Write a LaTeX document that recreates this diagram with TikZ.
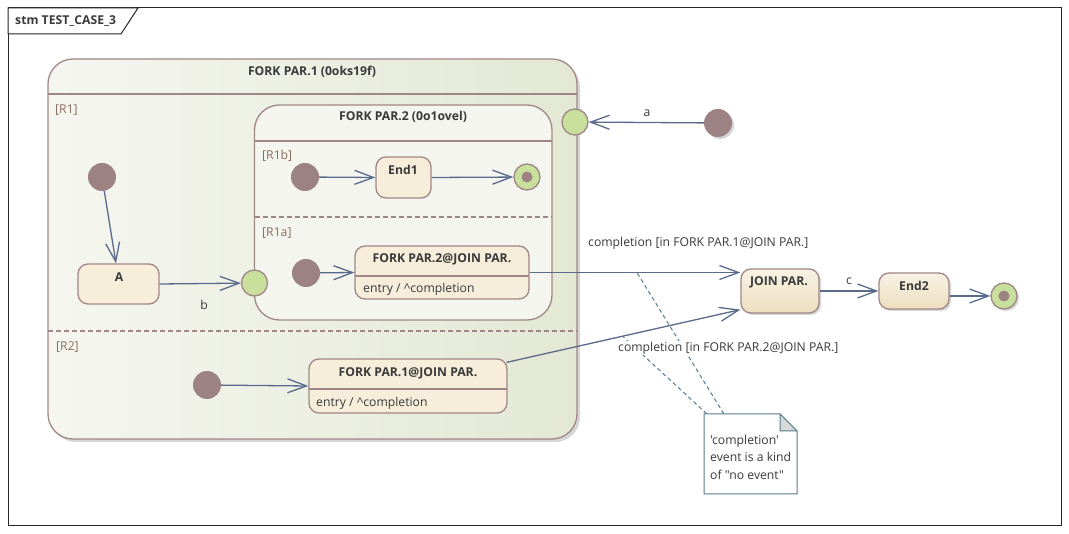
\documentclass[tikz,border=0pt]{standalone}
\usepackage{fontspec}
\setmainfont{Open Sans}[Ligatures=TeXOff]
\usetikzlibrary{arrows.meta,calc}
\definecolor{brd}{HTML}{A08787}
\definecolor{initc}{HTML}{9C8282}
\definecolor{greenc}{HTML}{C9E09C}
\definecolor{stfill}{HTML}{F6EDDA}
\definecolor{stlight}{HTML}{F8F2E4}
\definecolor{stdark}{HTML}{EDDFBF}
\definecolor{arr}{HTML}{5A6A8A}
\definecolor{txt}{HTML}{3A3A3A}
\definecolor{reg}{HTML}{8A6E60}
\definecolor{notebrd}{HTML}{557D8D}
\definecolor{compL}{HTML}{F5F6F0}
\definecolor{compR}{HTML}{E3E8D4}
\definecolor{comp2}{HTML}{F4F5EF}
\begin{document}
\begin{tikzpicture}[x=1pt,y=-1pt, font=\fontsize{12.2}{14}\selectfont, text=txt,
  state/.style={draw=brd, line width=1.3pt, fill=stfill, rounded corners=10pt, inner sep=0pt},
  gstate/.style={draw=brd, line width=1.3pt, top color=stlight, bottom color=stdark, rounded corners=10pt, inner sep=0pt},
  init/.style={circle, fill=initc, draw=none, minimum size=28pt, inner sep=0pt},
  pseudo/.style={circle, fill=greenc, draw=brd, line width=1.3pt, minimum size=26pt, inner sep=0pt},
  final/.style={circle, fill=greenc, draw=brd, line width=1.3pt, minimum size=26pt, inner sep=0pt},
  trans/.style={draw=arr, line width=1.3pt, -{Straight Barb[length=19pt,width=14pt,line width=1.3pt]}},
  title/.style={font=\fontsize{12.2}{14}\selectfont\bfseries, inner sep=0pt},
  reglbl/.style={text=reg, inner sep=0pt, anchor=west},
  lbl/.style={inner sep=0pt},
  divider/.style={draw=brd, line width=1.3pt},
  regdash/.style={draw=brd, line width=1.3pt, dash pattern=on 5pt off 3pt},
  notelink/.style={draw=notebrd, line width=1pt, dash pattern=on 4pt off 3pt},
  shadowc/.style={fill=black!16},
]
\useasboundingbox (0,0) rectangle (1069,534);
\fill[white] (0,0) rectangle (1069,534);
% frame
\draw[black!85, line width=1pt] (8,8) rectangle (1061,526);
\draw[black!85, line width=1pt, fill=white] (8,8) -- (138,8) -- (121,34) -- (8,34) -- cycle;
\node[title, anchor=west] (frametitle) at (15,21) {stm TEST\_CASE\_3};

% FORK PAR.1
\fill[shadowc, rounded corners=25pt] (51,62) rectangle (580,442);
\node[draw=brd, line width=1.3pt, rounded corners=25pt, left color=compL, right color=compR, minimum width=529pt, minimum height=380pt, inner sep=0pt] (fp1) at (312.5,249) {};
\draw[divider] (48,94) -- (577,94);
\node[title] (fp1t) at (312,72) {FORK PAR.1 (0oks19f)};
\node[reglbl] (r1) at (55,110) {[R1]};
\draw[regdash] (48,331) -- (577,331);
\node[reglbl] (r2) at (56,347) {[R2]};

% FORK PAR.2
\node[draw=brd, line width=1.3pt, rounded corners=25pt, fill=comp2, minimum width=297.5pt, minimum height=215pt, inner sep=0pt] (fp2) at (403.25,212.5) {};
\draw[divider] (254.5,141) -- (552,141);
\node[title] (fp2t) at (403,117) {FORK PAR.2 (0o1ovel)};
\node[reglbl] (r1b) at (262,156) {[R1b]};
\draw[regdash] (254.5,217) -- (552,217);
\node[reglbl] (r1a) at (262,233) {[R1a]};

% pseudostates
\node[pseudo] (ep1) at (575,122) {};
\node[pseudo] (ep2) at (254.5,283) {};

% initial nodes
\node[init] (i1) at (102,177) {};
\node[init] (i1b) at (305,177) {};
\node[init] (i1a) at (306,273) {};
\node[init] (i2) at (207,385) {};
\fill[shadowc] (720,125) circle (14pt);
\node[init] (ia) at (718,123) {};

% finals
\node[final] (f1) at (527,177) {};
\fill[initc] (f1) circle (5.5pt);
\fill[shadowc] (1006,298) circle (13pt);
\node[final] (f2) at (1004,296) {};
\fill[initc] (f2) circle (5.5pt);

% simple states
\node[state, minimum width=81pt, minimum height=40pt] (A) at (118.5,284) {};
\node[title] (At) at (119,277) {A};
\node[state, minimum width=55pt, minimum height=41pt] (end1) at (403.5,177.5) {};
\node[title] (end1t) at (403,170) {End1};

\node[state, minimum width=174pt, minimum height=53pt] (fj2) at (442,272.5) {};
\draw[divider] (355,276) -- (529,276);
\node[title] (fj2t) at (442,259) {FORK PAR.2@JOIN PAR.};
\node[lbl, anchor=west] (fj2e) at (363,289) {entry / \textasciicircum completion};

\node[state, minimum width=198pt, minimum height=54pt] (fj1) at (408,386) {};
\draw[divider] (309,389) -- (507,389);
\node[title] (fj1t) at (408,373) {FORK PAR.1@JOIN PAR.};
\node[lbl, anchor=west] (fj1e) at (316,403) {entry / \textasciicircum completion};

\fill[shadowc, rounded corners=10pt] (743,271) rectangle (821,315);
\node[gstate, minimum width=78pt, minimum height=44pt] (join) at (780,291) {};
\node[title] (joint) at (779,282) {JOIN PAR.};
\fill[shadowc, rounded corners=10pt] (881,275) rectangle (951,311);
\node[gstate, minimum width=70pt, minimum height=36pt] (end2) at (914,291) {};
\node[title] (end2t) at (914,286) {End2};

% transitions
\draw[trans] (ia) -- (ep1);
\node[lbl] (la) at (647,113) {a};
\draw[trans] (i1) -- ($(A.north)+(-2.5,0)$);
\draw[trans] (A.east) -- (ep2);
\node[lbl] (lb) at (204,305) {b};
\draw[trans] (i1b) -- (end1.west);
\draw[trans] (end1.east) -- (f1);
\draw[trans] (i1a) -- (fj2.west);
\draw[trans] (i2) -- (fj1.west);
\draw[trans] (fj2.east) -- coordinate[pos=0.509] (l1) (fj2.east -| join.west);
\draw[trans] ($(fj1.north east)+(-1,4)$) -- coordinate[pos=0.496] (l2) ($(join.south west)+(0,-4)$);
\draw[trans] (join.east) -- (end2.west);
\node[lbl] (lc) at (849,281) {c};
\draw[trans] (end2.east |- f2.west) -- (f2.west);

% note
\node[inner sep=0pt, minimum width=93pt, minimum height=80pt] (note) at (750.5,454) {};
\draw[notelink] ($(note.north west)+(20,0)$) -- (l1);
\draw[notelink] ($(note.north west)+(3,0)$) -- (l2);
\draw[notebrd, line width=1pt, fill=white] (704,414) -- (780,414) -- (797,431) -- (797,494) -- (704,494) -- cycle;
\draw[notebrd, line width=1pt, fill=black!15] (780,414) -- (780,431) -- (797,431) -- cycle;
\node[inner sep=0pt, anchor=north west, align=left, font=\fontsize{12.2}{17.5}\selectfont] (notetxt) at (710,435) {'completion'\\event is a kind\\of "no event"};

% transition labels
\node[lbl, anchor=west] (lc1) at (588,243) {completion [in FORK PAR.1@JOIN PAR.]};
\node[lbl, anchor=west, fill=white, inner sep=1pt] (lc2) at (617,348) {completion [in FORK PAR.2@JOIN PAR.]};
\end{tikzpicture}
\end{document}
